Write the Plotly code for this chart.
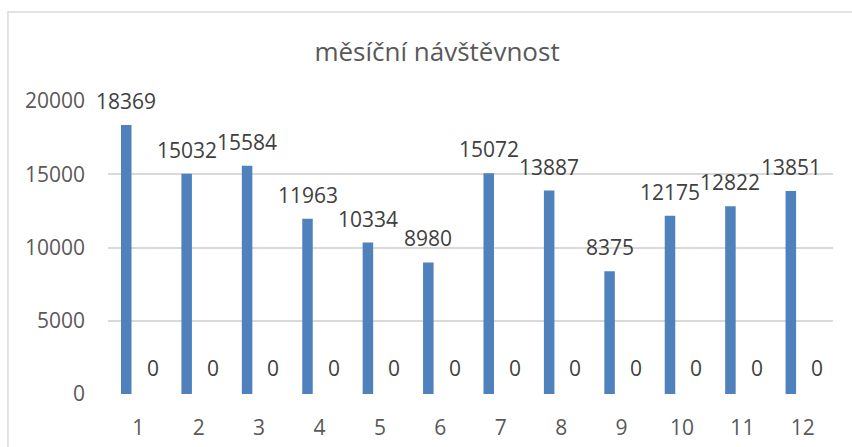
import plotly.graph_objects as go

months = list(range(1, 13))
visits = [18369, 15032, 15584, 11963, 10334, 8980, 15072, 13887, 8375, 12175, 12822, 13851]
second = [0] * 12
y_ticks = [0, 5000, 10000, 15000, 20000]

BLUE = "#4f81bd"
FONT = "Open Sans"

fig = go.Figure()
fig.add_trace(go.Bar(x=months, y=visits, width=0.174, offset=-0.285,
                     marker=dict(color=BLUE, line=dict(width=0)), name="návštěvnost"))
fig.add_trace(go.Bar(x=months, y=second, width=0.174, offset=0.15,
                     marker=dict(color=BLUE, line=dict(width=0)), name="řada 2"))

# data labels
for m, v in zip(months, visits):
    fig.add_annotation(x=m - 0.198, y=v, text=str(v), showarrow=False,
                       yanchor="bottom", yshift=8,
                       font=dict(family=FONT, size=21, color="#404040"))
for m, v in zip(months, second):
    fig.add_annotation(x=m + 0.237, y=v, text=str(v), showarrow=False,
                       yanchor="bottom", yshift=10,
                       font=dict(family=FONT, size=21, color="#404040"))

# chart frame
fig.add_shape(type="rect", xref="paper", yref="paper",
              x0=-0.138, x1=1.2, y0=-0.4, y1=1.304,
              line=dict(color="#d9d9d9", width=1.5), fillcolor="rgba(0,0,0,0)",
              layer="below")

fig.update_layout(
    width=852, height=447,
    margin=dict(l=108, r=19, t=101, b=53),
    paper_bgcolor="white", plot_bgcolor="white",
    showlegend=False,
    font=dict(family=FONT, size=21, color="#595959"),
    title=dict(text="měsíční návštěvnost", x=0.513, xref="container",
               xanchor="center", y=0.884, yref="container", yanchor="middle",
               font=dict(family=FONT, size=26, color="#595959")),
    xaxis=dict(range=[0.5, 12.5], tickmode="array", tickvals=months,
               ticktext=[str(m) for m in months], showgrid=False,
               zeroline=False, showline=False, ticks="",
               ticklabelstandoff=19, automargin=False),
    yaxis=dict(range=[0, 20000], tickmode="array", tickvals=y_ticks,
               ticktext=[str(t) for t in y_ticks], showgrid=True,
               gridcolor="#d9d9d9", gridwidth=1.5, zeroline=False,
               showline=False, ticks="", ticklabelstandoff=22,
               automargin=False),
)

fig.write_html("out.html", config={"displayModeBar": False},
               post_script="document.body.style.margin='0';")
